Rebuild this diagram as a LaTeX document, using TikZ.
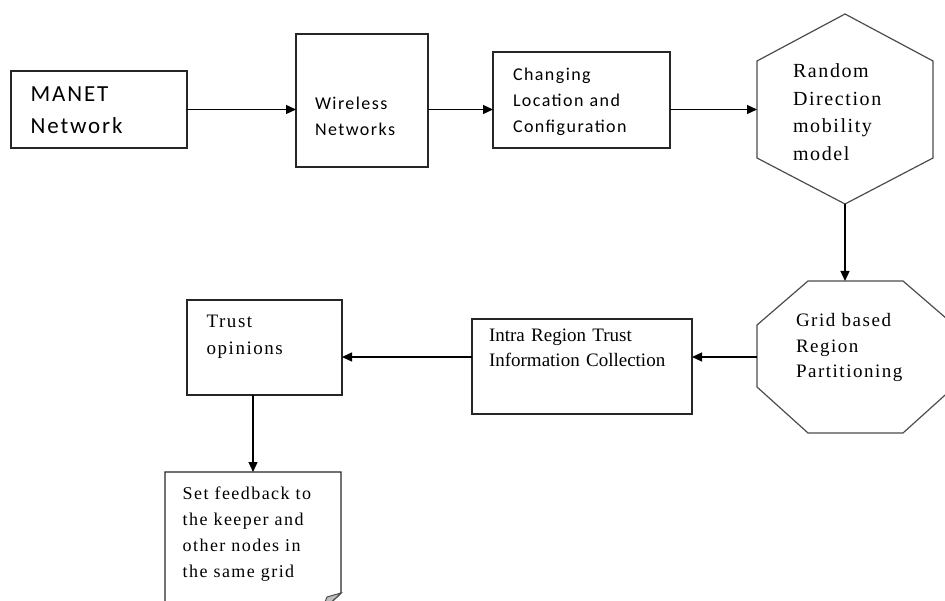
\documentclass[tikz,border=0pt]{standalone}
\usepackage{fontspec}
\setmainfont{Liberation Serif}
\newfontfamily\sanswide[LetterSpace=8]{Carlito}
\newfontfamily\serifwide[LetterSpace=8]{Liberation Serif}
\usetikzlibrary{arrows.meta,calc}
\newcommand{\fsz}[2]{\fontsize{#1}{#2}\selectfont}

\begin{document}
\begin{tikzpicture}[
  x=1pt, y=-1pt,
  box/.style={draw=black!85, line width=1.4pt, align=left, anchor=north west,
              inner ysep=0pt, outer sep=0pt},
  shapetxt/.style={align=left, anchor=north west, inner ysep=0pt, outer sep=0pt},
  outline/.style={draw=black!70, line width=1.2pt},
  arr/.style={-{Triangle[length=10pt,width=9pt]}, line width=1.3pt, black}
]
\useasboundingbox (0,0) rectangle (945,601);
\clip (0,0) rectangle (945,601);

% top row
\node[box, inner xsep=19.7pt, text width=136.6pt, text height=30.7pt,
      text depth=46.3pt, font=\sanswide\fsz{23}{31.6}] (manet) at (11,71)
  {MANET\\Network};
\node[box, inner xsep=19pt, text width=94pt, text height=75.3pt,
      text depth=57.7pt, font=\sanswide\fsz{18}{26.4}] (wireless) at (296,34)
  {Wireless\\Networks};
\node[box, inner xsep=20pt, text width=137pt, text height=29pt,
      text depth=67pt, font=\sanswide\fsz{18}{26}] (changing) at (493,52)
  {Changing\\Location and\\Configuration};
\node[shapetxt, inner xsep=36pt, text width=104pt, text height=63.3pt,
      text depth=126.7pt, font=\serifwide\fsz{20}{27.8}] (rdm) at (757,14)
  {Random\\Direction\\mobility\\model};
\draw[outline] (rdm.north) -- ([yshift=-47pt]rdm.north east)
  -- ([yshift=46pt]rdm.south east) -- (rdm.south)
  -- ([yshift=46pt]rdm.south west) -- ([yshift=-47pt]rdm.north west) -- cycle;

% bottom row
\node[shapetxt, inner xsep=39pt, text width=119pt, text height=45.7pt,
      text depth=106.3pt, font=\serifwide\fsz{19}{25.5}] (grid) at (757,281)
  {Grid based\\Region\\Partitioning};
\draw[outline] ([xshift=51pt]grid.north west) -- ([xshift=-51pt]grid.north east)
  -- ([yshift=-44pt]grid.north east) -- ([yshift=46pt]grid.south east)
  -- ([xshift=-51pt]grid.south east) -- ([xshift=51pt]grid.south west)
  -- ([yshift=46pt]grid.south west) -- ([yshift=-44pt]grid.north west) -- cycle;
\node[box, inner xsep=17pt, text width=186pt, text height=22.7pt,
      text depth=72.3pt, font=\fsz{19}{25}] (intra) at (472,319)
  {Intra Region Trust\\Information Collection};
\node[box, inner xsep=19.7pt, text width=115.6pt, text height=28pt,
      text depth=67pt, font=\serifwide\fsz{19}{26.7}] (trust) at (187,300)
  {Trust\\opinions};
\node[shapetxt, inner xsep=17.7pt, text width=140.6pt, text height=27pt,
      text depth=113pt, font=\serifwide\fsz{18}{26}] (setfb) at (165,472)
  {Set feedback to\\the keeper and\\other nodes in\\the same grid};
\draw[draw=black!85, line width=1.4pt] (setfb.south west) -- (setfb.north west)
  -- (setfb.north east) -- ([yshift=19pt]setfb.south east)
  -- ([xshift=-20pt]setfb.south east) -- cycle;
\filldraw[draw=black!70, fill=black!25, line width=1pt]
  ([yshift=19pt]setfb.south east) -- ([xshift=-20pt]setfb.south east)
  -- ([xshift=-14pt,yshift=15pt]setfb.south east) -- cycle;

% connectors
\draw[arr] (manet.east) -- (manet.east -| wireless.west);
\draw[arr] (manet.east -| wireless.east) -- (manet.east -| changing.west);
\draw[arr] (manet.east -| changing.east) -- (manet.east -| rdm.west);
\draw[arr] (rdm.south) -- (rdm.south |- grid.north);
\draw[arr] (grid.west) -- (grid.west -| intra.east);
\draw[arr] (grid.west -| intra.west) -- (grid.west -| trust.east);
\draw[arr] ([xshift=-11.5pt]trust.south) -- ([xshift=-11.5pt]trust.south |- setfb.north);
\end{tikzpicture}
\end{document}
